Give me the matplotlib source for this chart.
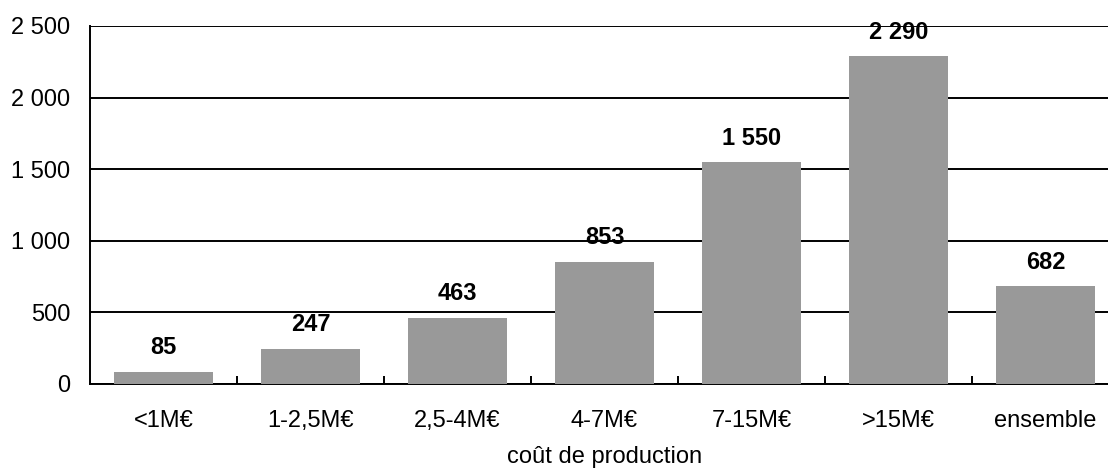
import matplotlib
matplotlib.use('Agg')
import matplotlib.pyplot as plt
from matplotlib.ticker import FuncFormatter, FixedLocator, NullFormatter

categories = ['<1M€', '1-2,5M€', '2,5-4M€', '4-7M€', '7-15M€', '>15M€', 'ensemble']
values = [85, 247, 463, 853, 1550, 2290, 682]
y_ticks = [0, 500, 1000, 1500, 2000, 2500]

plt.rcParams['font.family'] = ['Liberation Sans', 'DejaVu Sans']


def fmt_thousands(v, pos=None):
    return f"{int(round(v)):,}".replace(',', ' ')


fig = plt.figure(figsize=(11.08, 4.70), dpi=100)
# right edge of the axes runs past the figure edge on purpose
ax = fig.add_axes([90 / 1108, 1 - 384 / 470, 1029 / 1108, 358 / 470])

x = range(len(categories))
ax.bar(x, values, width=0.67, color='#999999', zorder=3)

for xi, v in zip(x, values):
    ax.annotate(fmt_thousands(v), (xi, v), xytext=(0, 9), textcoords='offset points',
                ha='center', va='bottom', fontsize=17, fontweight='bold', zorder=4)

ax.set_xlim(-0.5, len(categories) - 0.5)
ax.set_ylim(0, 2500)
ax.set_yticks(y_ticks)
ax.yaxis.set_major_formatter(FuncFormatter(fmt_thousands))
ax.yaxis.grid(True, color='black', linewidth=1.4, zorder=1)
ax.tick_params(axis='y', length=0, labelsize=17, pad=14)

# category labels centred, tick marks between the categories
ax.set_xticks(list(x))
ax.set_xticklabels(categories)
ax.tick_params(axis='x', which='major', length=0, labelsize=17, pad=19)
ax.xaxis.set_minor_locator(FixedLocator([i + 0.5 for i in range(len(categories) - 1)]))
ax.xaxis.set_minor_formatter(NullFormatter())
ax.tick_params(axis='x', which='minor', direction='in', length=6, width=1.4)

ax.set_xlabel('coût de production', fontsize=17, labelpad=10)

for side in ('top', 'right'):
    ax.spines[side].set_visible(False)
for side in ('left', 'bottom'):
    ax.spines[side].set_linewidth(1.4)

fig.savefig('out.png', dpi=100)
